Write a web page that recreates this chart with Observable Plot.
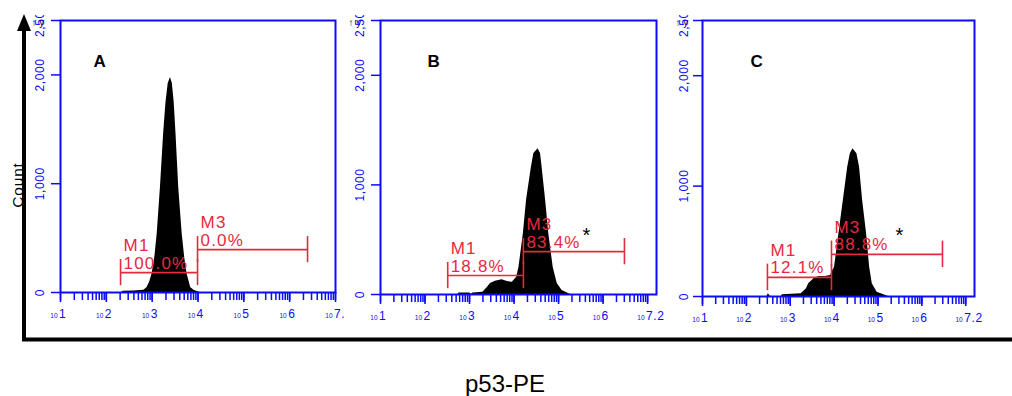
<!DOCTYPE html>
<html><head><meta charset="utf-8">
<script src="https://cdn.jsdelivr.net/npm/d3@7"></script>
<script src="https://cdn.jsdelivr.net/npm/@observablehq/plot@0.6"></script>
<style>
body{margin:0;background:#fff;}
#fig{position:relative;width:1012px;height:396px;overflow:hidden;font-family:"Liberation Sans",Arial,sans-serif;background:#fff;}
#fig svg.plot, #fig > svg{position:absolute;max-width:none;}
</style></head><body>
<div id="fig">
<svg id="overlay" width="1012" height="396" style="left:0;top:0" font-family="Liberation Sans, Arial, sans-serif">
  <text id="ylab" transform="translate(23,185) rotate(-90)" text-anchor="middle" font-size="15.5" letter-spacing="0.8" fill="#000">Count</text>
  <line x1="24" y1="27" x2="24" y2="341" stroke="#000" stroke-width="4"/>
  <polygon points="24,14 17,31 31,31" fill="#000"/>
  <line x1="22" y1="339.5" x2="1012" y2="339.5" stroke="#000" stroke-width="4"/>
  <text id="xlab" x="505" y="392" text-anchor="middle" font-size="24" fill="#000">p53-PE</text>
</svg>
</div>
<script>
// ---------- data ----------
const panelLetters = ["A", "B", "C"];
const decadeExponents = [1, 2, 3, 4, 5, 6, 7];
const decadeLabels = ["1", "2", "3", "4", "5", "6", "7.2"];
const yTicks = [0, 1000, 2000, 2500];
const yTickLabels = ["0", "1,000", "2,000", "2,500"];
const gateNames = ["M1", "M3"];

// histogram A (log10 fluorescence, count)
const histALog   = [2.34, 2.36, 2.6, 2.82, 2.89, 2.95, 3.0, 3.06, 3.11, 3.18, 3.25, 3.30, 3.35, 3.40, 3.44, 3.48, 3.52, 3.58, 3.655, 3.71, 3.76, 3.84, 3.92, 4.05];
const histACount = [0, 12, 14, 20, 46, 100, 174, 330, 540, 960, 1460, 1740, 1920, 1975, 1920, 1750, 1460, 960, 540, 320, 174, 46, 18, 0];
// histogram B
const histBLog   = [2.74, 2.76, 3.0, 3.04, 3.08, 3.30, 3.40, 3.47, 3.58, 3.73, 3.85, 3.96, 4.06, 4.11, 4.21, 4.28, 4.39, 4.445, 4.54, 4.595, 4.63, 4.71, 4.78, 4.88, 4.97, 5.08, 5.27];
const histBCount = [0, 14, 14, 3, 14, 20, 64, 100, 121, 134, 119, 112, 158, 246, 556, 858, 1160, 1286, 1329, 1286, 1160, 858, 556, 246, 100, 36, 0];
// histogram C
const histCLog   = [2.47, 2.50, 2.55, 2.80, 2.82, 3.25, 3.37, 3.42, 3.54, 3.65, 3.80, 3.92, 3.97, 4.01, 4.11, 4.21, 4.31, 4.37, 4.43, 4.52, 4.58, 4.65, 4.74, 4.81, 4.87, 4.98, 5.24];
const histCCount = [0, 25, 0, 0, 15, 24, 70, 115, 160, 181, 181, 190, 235, 266, 568, 870, 1171, 1293, 1338, 1293, 1171, 870, 568, 266, 115, 39, 0];

// gates (log10 start / end, bar level in counts, percentage)
const gateAStart = [2.31, 3.99], gateAEnd = [3.99, 6.39], gateALevel = [183, 394], gateAPct = ["100.0%", "0.0%"];
const gateBStart = [2.51, 4.21], gateBEnd = [4.21, 6.48], gateBLevel = [173, 391], gateBPct = ["18.8%", "83.4%"];
const gateCStart = [2.48, 3.94], gateCEnd = [3.94, 6.47], gateCLevel = [173, 382], gateCPct = ["12.1%", "88.8%"];

// significance asterisks (log10 x, count at glyph top)
const asteriskLog = [null, 5.54, 5.40];
const asteriskCount = [null, 611, 625];

// ---------- drawing ----------
const BLUE = "#0a0aff";
const RED = "#e42a3f";

function panel(cfg) {
  const hist = cfg.log.map((l, i) => ({x: 10 ** l, y: cfg.count[i]}));
  const gates = gateNames.map((n, i) => ({
    x1: 10 ** cfg.gStart[i], x2: 10 ** cfg.gEnd[i], y: cfg.gLevel[i],
    label: n + "\n" + cfg.gPct[i]
  }));
  const caps = gates.flatMap(g => [{x: g.x1, y: g.y}, {x: g.x2, y: g.y}]);
  const marks = [
    Plot.areaY(hist, {x: "x", y: "y", fill: "black", curve: "linear"}),
    Plot.frame({stroke: BLUE, strokeWidth: 2}),
    Plot.axisY(yTicks, {tickSize: 9, tickFormat: () => "", stroke: BLUE, strokeWidth: 1.5}),
    Plot.axisX({ticks: 40, tickSize: 8, tickFormat: () => "", stroke: BLUE, strokeWidth: 1.5}),
    Plot.axisX(decadeExponents.map(e => 10 ** e), {tickSize: 10, tickFormat: () => "", stroke: BLUE, strokeWidth: 1.6}),
    Plot.text(yTicks, {y: d => d, text: (d, i) => yTickLabels[i], frameAnchor: "left", dx: cfg.yLabelDx,
      rotate: -90, textAnchor: "middle", lineAnchor: "bottom", fill: BLUE, fontSize: 12}),
    Plot.text(decadeExponents, {x: e => 10 ** e, text: (d, i) => decadeLabels[i], frameAnchor: "bottom", dy: 25, dx: -1.5,
      textAnchor: "start", lineAnchor: "bottom", fill: BLUE, fontSize: 12}),
    Plot.text(decadeExponents, {x: e => 10 ** e, text: () => "10", frameAnchor: "bottom", dy: 25, dx: -3,
      textAnchor: "end", lineAnchor: "bottom", fill: BLUE, fontSize: 6.5}),
    Plot.ruleY(gates, {x1: "x1", x2: "x2", y: "y", stroke: RED, strokeWidth: 1.6}),
    Plot.ruleX(caps, {x: "x", y1: d => d.y - 120, y2: d => d.y + 120, stroke: RED, strokeWidth: 1.6}),
    Plot.text(gates, {x: "x1", y: "y", text: "label", dx: 3, dy: -4, textAnchor: "start", lineAnchor: "bottom",
      lineHeight: 1.03, fill: RED, fontSize: 17}),
    Plot.text([cfg.letter], {frameAnchor: "top-left", dx: cfg.letterDx, dy: 34, textAnchor: "start", lineAnchor: "top",
      fontWeight: "bold", fontSize: 17, fill: "black"})
  ];
  if (cfg.astLog != null) {
    marks.push(Plot.text(["*"], {x: () => 10 ** cfg.astLog, y: () => cfg.astCount, textAnchor: "start", lineAnchor: "top",
      fontSize: 20, fill: "black"}));
  }
  const svg = Plot.plot({
    width: cfg.width, height: 315,
    marginLeft: cfg.marginLeft, marginRight: cfg.marginRight, marginTop: 5, marginBottom: cfg.marginBottom,
    style: {fontFamily: "Liberation Sans, Arial, sans-serif", background: "transparent", overflow: "hidden"},
    x: {type: "log", domain: cfg.xDomain},
    y: {domain: [0, 2500]},
    marks
  });
  svg.style.left = cfg.left + "px";
  svg.style.top = "15px";
  svg.querySelectorAll('g[fill="' + RED + '"] text').forEach(t => t.setAttribute("letter-spacing", "1.2"));
  svg.querySelectorAll('g[font-size="12"] text').forEach(t => t.setAttribute("letter-spacing", "0.6"));
  return svg;
}

const fig = document.getElementById("fig");
const overlay = document.getElementById("overlay");
const panels = [
  {letter: panelLetters[0], log: histALog, count: histACount, gStart: gateAStart, gEnd: gateAEnd, gLevel: gateALevel, gPct: gateAPct,
   astLog: asteriskLog[0], astCount: asteriskCount[0], xDomain: [10, 1e7],
   left: 28, width: 317, marginLeft: 32, marginRight: 10, marginBottom: 38, yLabelDx: -17, letterDx: 33},
  {letter: panelLetters[1], log: histBLog, count: histBCount, gStart: gateBStart, gEnd: gateBEnd, gLevel: gateBLevel, gPct: gateBPct,
   astLog: asteriskLog[1], astCount: asteriskCount[1], xDomain: [10, 10 ** 7.2],
   left: 345, width: 327, marginLeft: 35, marginRight: 16, marginBottom: 36, yLabelDx: -17, letterDx: 47},
  {letter: panelLetters[2], log: histCLog, count: histCCount, gStart: gateCStart, gEnd: gateCEnd, gLevel: gateCLevel, gPct: gateCPct,
   astLog: asteriskLog[2], astCount: asteriskCount[2], xDomain: [10, 10 ** 7.2],
   left: 672, width: 340, marginLeft: 30, marginRight: 38, marginBottom: 34, yLabelDx: -15, letterDx: 48}
];
panels.forEach(cfg => fig.insertBefore(panel(cfg), overlay));
</script>
</body></html>
